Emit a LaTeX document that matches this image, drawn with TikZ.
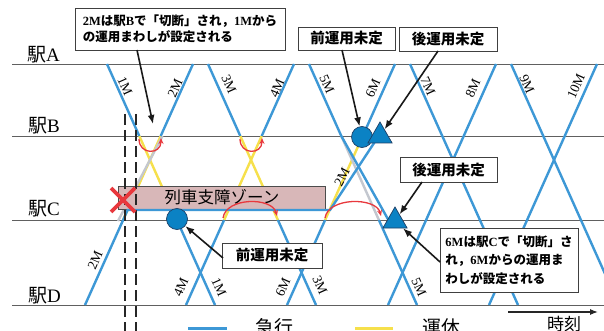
\documentclass[tikz,border=0pt]{standalone}
\usepackage{fontspec}
\setmainfont{Liberation Serif}
\newfontfamily\cjk{Noto Sans CJK JP}
\usetikzlibrary{arrows.meta,shapes.geometric}
\definecolor{lineblue}{HTML}{3D98D6}
\definecolor{markblue}{HTML}{0B82C4}
\definecolor{markedge}{HTML}{1E3F66}
\definecolor{cyellow}{HTML}{F6E04B}
\definecolor{cgray}{HTML}{C3C7CF}
\definecolor{cred}{HTML}{E8383D}
\definecolor{zonefill}{HTML}{D8B7B8}
\definecolor{stline}{HTML}{606060}
\newcommand{\J}[1]{{\cjk #1}}
\begin{document}
\begin{tikzpicture}[x=1pt,y=-1pt,
  bl/.style={draw=lineblue,line width=2.4pt},
  yl/.style={draw=cyellow,line width=2.4pt},
  gr/.style={draw=cgray,line width=2.4pt},
  stn/.style={draw=stline,line width=0.9pt},
  turn/.style={draw=cred,line width=1.3pt,-{Stealth[length=6pt,width=5pt]}},
  callout/.style={draw=black!75,fill=white,line width=0.8pt,inner sep=0pt},
  pointer/.style={draw=black!90,line width=1.6pt,-{Latex[length=9pt,width=7pt]}},
  tlab/.style={font=\fontsize{13.5}{13.5}\selectfont,inner sep=0pt},
  stlab/.style={font=\fontsize{19}{19}\selectfont,inner sep=0pt,anchor=base west},
  bluedot/.style={circle,fill=markblue,draw=markedge,line width=0.7pt,minimum size=21pt,inner sep=0pt},
  bluetri/.style={regular polygon,regular polygon sides=3,fill=markblue,draw=markedge,line width=0.7pt,minimum size=28pt,inner sep=0pt},
  vdash/.style={draw=black!85,line width=2.2pt,dash pattern=on 11pt off 5pt},
  redx/.style={draw=cred,line width=3.6pt},
  legtext/.style={font=\fontsize{19}{19}\selectfont,inner sep=0pt,anchor=base}
]
\useasboundingbox (0,0) rectangle (604,331);
\fill[white] (0,0) rectangle (604,331);

% station lines
\foreach \n/\y in {A/64,B/136,C/220,D/305}{
  \coordinate (s\n0) at (12,\y);
  \coordinate (s\n1) at (604,\y);
}
\draw[stn] (sA0) -- (sA1);
\draw[stn] (sB0) -- (sB1);
\draw[stn] (sC0) -- (sC1);
\draw[stn] (sD0) -- (sD1);

% station labels
\node[stlab] (lA) at (27,62) {\J{駅}A};
\node[stlab] (lB) at (28,133) {\J{駅}B};
\node[stlab] (lC) at (28,215) {\J{駅}C};
\node[stlab] (lD) at (28,302) {\J{駅}D};

% lattice points
\foreach \k in {0,...,4}{
  \coordinate (dA\k) at ({107+101*\k},64);
  \coordinate (dB\k) at ({139.3+101*\k},136);
  \coordinate (dC\k) at ({176.9+101*\k},220);
  \coordinate (dD\k) at ({215+101*\k},305);
  \coordinate (uA\k) at ({193+101*\k},64);
  \coordinate (uB\k) at ({160.7+101*\k},136);
  \coordinate (uC\k) at ({123.1+101*\k},220);
  \coordinate (uD\k) at ({85+101*\k},305);
}

% cancelled (yellow) and original (gray) segments
\draw[yl] (dB0) -- (dC0);
\draw[yl] (uB0) -- (uC0);
\draw[yl] (dB1) -- (dC1);
\draw[yl] (uC1) -- (uB1);
\draw[yl] (uC2) -- (uB2);
\coordinate (g2a) at (162.5,136);
\coordinate (g2b) at (118,221);
\draw[gr] (g2a) -- (g2b);
\draw[gr] (dB2) -- (dC2);

% blue lines
\draw[bl] (dA0) -- (dB0);
\draw[bl] (dC0) -- (dD0);
\draw[bl] (dA1) -- (dB1);
\draw[bl] (dC1) -- (dD1);
\coordinate (d5late) at (389,221);
\draw[bl] (dA2) -- (dB2) -- (d5late);
\draw[bl] (dC2) -- (dD2);
\draw[bl] (dA3) -- (dD3);
\draw[bl] (dA4) -- (dD4);
\draw[bl] (uB0) -- (uA0);
\draw[bl] (uD1) -- (uC1);
\draw[bl] (uB1) -- (uA1);
\draw[bl] (uD2) -- (uC2);
\draw[bl] (uB2) -- (uA2);
\draw[bl] (uD3) -- (uA3);
\draw[bl] (uD4) -- (uA4);

% disruption zone
\node[draw=black!70,fill=zonefill,line width=0.7pt,minimum width=207pt,minimum height=23pt,inner sep=0pt] (zone) at (221.5,197.5) {};
\node[font=\fontsize{16.5}{16.5}\selectfont,inner sep=0pt] (zonetext) at (222,197) {\J{列車支障ゾーン}};

% 2M waiting at C and running late
\coordinate (w2a) at (127.6,210);
\coordinate (w2b) at (330,210);
\coordinate (w2c) at (378,137);
\draw[bl] (uD0) -- (w2a) -- (w2b) -- (w2c);

% dashed time markers
\coordinate (v1t) at (125,114);
\coordinate (v1b) at (125,335);
\coordinate (v2t) at (136,114);
\coordinate (v2b) at (136,335);
\draw[vdash] (v1t) -- (v1b);
\draw[vdash] (v2t) -- (v2b);

% red X
\coordinate (x1) at (111,188);
\coordinate (x2) at (135,212);
\coordinate (x3) at (111,212);
\coordinate (x4) at (135,188);
\draw[redx] (x1) -- (x2);
\draw[redx] (x3) -- (x4);

% turn-back arcs
\draw[turn] (139,139) .. controls (139,155) and (161,155) .. (161,138);
\draw[turn] (240,139) .. controls (240,155) and (262,155) .. (262,138);
\draw[turn] (223,218) .. controls (226,197) and (272,197) .. (277,216);
\draw[turn] (325,218) .. controls (328,197) and (376,197) .. (381,216);

% markers
\node[bluedot] (cB) at (362,137) {};
\node[bluedot] (cC) at (177,219) {};
\node[bluetri] (tB) at (380,136) {};
\node[bluetri] (tC) at (395,221) {};

% train labels
\node[tlab,rotate=-66] (l1M) at (125,86) {1M};
\node[tlab,rotate=66]  (l2M) at (175,88) {2M};
\node[tlab,rotate=-66] (l3M) at (229,84) {3M};
\node[tlab,rotate=66]  (l4M) at (277,88) {4M};
\node[tlab,rotate=-66] (l5M) at (327,84) {5M};
\node[tlab,rotate=66]  (l6M) at (373,88) {6M};
\node[tlab,rotate=-66] (l7M) at (428,86) {7M};
\node[tlab,rotate=66]  (l8M) at (473,88) {8M};
\node[tlab,rotate=-66] (l9M) at (527,84) {9M};
\node[tlab,rotate=66]  (l10M) at (576,86) {10M};
\node[tlab,rotate=66]  (b2M) at (95,260) {2M};
\node[tlab,rotate=66]  (b4M) at (181,287) {4M};
\node[tlab,rotate=-66] (b1M) at (219,287) {1M};
\node[tlab,rotate=66]  (b6M) at (283,287) {6M};
\node[tlab,rotate=-66] (b3M) at (320,285) {3M};
\node[tlab,rotate=-66] (b5M) at (419,287) {5M};
\node[tlab,rotate=62]  (y2M) at (342,177) {2M};

% callouts
\node[callout,minimum width=210pt,minimum height=42pt,align=left,font=\fontsize{12.5}{16}\selectfont\bfseries] (b1) at (180,29)
  {2M\J{は駅}B\J{で「切断」され，}1M\J{から}\\\J{の運用まわしが設定される}};
\node[callout,minimum width=97pt,minimum height=23pt,font=\fontsize{14.5}{14.5}\selectfont\bfseries] (b2) at (346.5,38.5) {\J{前運用未定}};
\node[callout,minimum width=98pt,minimum height=24pt,font=\fontsize{14.5}{14.5}\selectfont\bfseries] (b3) at (448,39) {\J{後運用未定}};
\node[callout,minimum width=97pt,minimum height=25pt,font=\fontsize{14.5}{14.5}\selectfont\bfseries] (b4) at (448.5,169.5) {\J{後運用未定}};
\node[callout,minimum width=100pt,minimum height=25pt,font=\fontsize{14.5}{14.5}\selectfont\bfseries] (b5) at (272,255.5) {\J{前運用未定}};
\node[callout,minimum width=138pt,minimum height=64pt,align=left,font=\fontsize{12.5}{18.5}\selectfont\bfseries] (b6) at (509,260)
  {6M\J{は駅}C\J{で「切断」さ}\\\J{れ，}6M\J{からの運用ま}\\\J{わしが設定される}};

% pointers
\coordinate (p1s) at (137,50);
\coordinate (p1e) at (153,124);
\draw[pointer] (p1s) -- (p1e);
\coordinate (p2s) at (342,50);
\draw[pointer] (p2s) -- (cB);
\coordinate (p3s) at (438,51);
\draw[pointer] (p3s) -- (tB);
\coordinate (p4s) at (422,182);
\draw[pointer] (p4s) -- (tC);
\coordinate (p5s) at (223,258);
\draw[pointer] (p5s) -- (cC);
\coordinate (p6s) at (440,262);
\draw[pointer] (p6s) -- (tC);

% legend
\coordinate (lg1a) at (188,328);
\coordinate (lg1b) at (227,328);
\draw[draw=lineblue,line width=3pt] (lg1a) -- (lg1b);
\node[legtext] (lgt1) at (274,334) {\J{急行}};
\coordinate (lg2a) at (355,328);
\coordinate (lg2b) at (393,328);
\draw[draw=cyellow,line width=3pt] (lg2a) -- (lg2b);
\node[legtext] (lgt2) at (441,334) {\J{運休}};

% time axis
\coordinate (ta) at (508,312);
\coordinate (tb) at (598,312);
\draw[draw=black!85,line width=1.2pt,-{Latex[length=8pt,width=6pt]}] (ta) -- (tb);
\node[font=\fontsize{17}{17}\selectfont,inner sep=0pt,anchor=base] (tlabel) at (564,330) {\J{時刻}};
\end{tikzpicture}
\end{document}
